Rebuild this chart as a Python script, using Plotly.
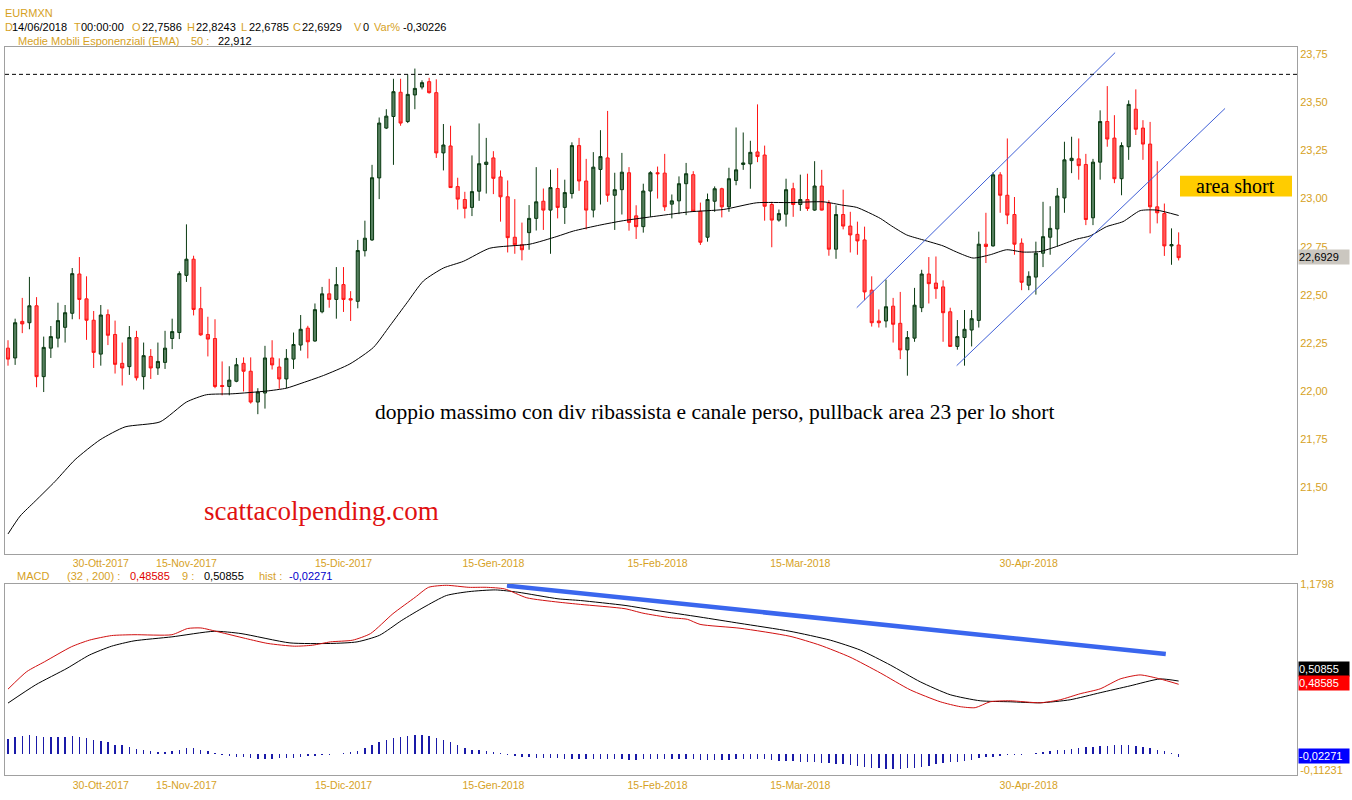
import plotly.graph_objects as go

W, H = 1352, 800

# ---------------- DATA ----------------
opens = [22.223,22.172,22.362,22.355,22.443,22.075,22.223,22.275,22.331,22.404,
         22.608,22.479,22.368,22.192,22.397,22.294,22.144,22.127,22.278,22.075,
         22.180,22.120,22.149,22.273,22.304,22.601,22.685,22.428,22.294,22.273,
         22.029,22.024,22.051,22.144,22.103,21.943,21.990,22.172,22.125,22.063,
         22.166,22.239,22.327,22.260,22.412,22.505,22.476,22.553,22.480,22.466,
         22.729,22.785,23.107,23.366,23.426,23.552,23.400,23.538,23.579,23.607,
         23.550,23.237,23.273,23.062,22.995,22.954,23.038,23.177,23.211,23.112,
         23.009,22.799,22.760,22.823,22.897,22.986,22.940,23.052,22.954,23.026,
         23.275,23.091,22.940,23.151,23.211,23.017,23.046,23.134,22.910,22.854,
         23.039,23.134,23.132,22.971,22.988,23.077,23.124,22.934,22.799,22.986,
         23.051,22.957,23.094,23.177,23.180,23.242,23.226,22.969,22.888,22.919,
         23.051,22.969,22.995,22.940,23.065,22.977,22.737,22.917,22.857,22.814,
         22.785,22.524,22.364,22.364,22.441,22.352,22.214,22.275,22.433,22.608,
         22.561,22.541,22.412,22.232,22.278,22.317,22.367,22.763,22.754,23.123,
         23.017,22.917,22.768,22.550,22.592,22.716,22.799,22.842,23.003,23.197,
         23.206,23.177,22.900,23.189,23.400,23.314,23.103,23.269,23.464,23.366,
         23.283,22.957,22.922,22.754,22.7586]
highs = [22.264,22.376,22.484,22.593,22.488,22.283,22.338,22.459,22.447,22.639,
         22.696,22.596,22.416,22.447,22.424,22.366,22.252,22.338,22.313,22.252,
         22.218,22.252,22.313,22.376,22.622,22.866,22.703,22.541,22.386,22.373,
         22.154,22.129,22.172,22.175,22.175,22.015,22.235,22.264,22.170,22.218,
         22.304,22.395,22.339,22.455,22.541,22.583,22.644,22.644,22.519,22.785,
         22.885,23.175,23.421,23.464,23.622,23.622,23.644,23.675,23.614,23.627,
         23.619,23.387,23.378,23.108,23.035,23.224,23.390,23.315,23.246,23.146,
         23.094,22.997,22.875,22.966,23.163,23.052,23.150,23.158,23.098,23.292,
         23.315,23.206,23.241,23.355,23.455,23.134,23.237,23.163,22.965,23.077,
         23.142,23.166,23.232,23.021,23.115,23.185,23.142,22.979,23.026,23.063,
         23.056,23.160,23.369,23.343,23.300,23.489,23.275,22.983,22.943,23.103,
         23.082,23.124,23.129,23.194,23.149,22.991,22.965,23.046,22.931,22.880,
         22.854,22.596,22.424,22.579,22.484,22.515,22.312,22.536,22.630,22.696,
         22.699,22.575,22.433,22.369,22.421,22.421,22.828,22.926,23.137,23.137,
         23.312,23.008,22.793,22.622,22.776,22.983,22.960,23.055,23.295,23.321,
         23.312,23.232,23.206,23.458,23.584,23.433,23.292,23.510,23.567,23.407,
         23.398,23.194,22.974,22.845,22.8243]
lows = [22.132,22.136,22.301,22.321,22.020,21.995,22.172,22.227,22.252,22.373,
        22.373,22.266,22.120,22.132,22.239,22.091,22.029,22.084,22.055,22.008,
        22.063,22.084,22.115,22.218,22.270,22.567,22.393,22.287,22.180,22.015,
        21.978,21.978,22.046,21.998,21.935,21.880,21.909,22.112,22.012,22.015,
        22.115,22.210,22.170,22.256,22.404,22.433,22.376,22.411,22.364,22.430,
        22.699,22.780,22.997,23.361,23.175,23.378,23.392,23.464,23.567,23.545,
        23.211,23.146,23.055,22.943,22.897,22.909,22.988,23.026,23.023,22.880,
        22.720,22.713,22.679,22.734,22.834,22.837,22.713,22.897,22.868,23.000,
        23.040,22.840,22.902,22.969,22.983,22.837,22.917,22.833,22.790,22.823,
        22.905,23.000,22.936,22.897,22.919,22.914,22.931,22.759,22.776,22.931,
        22.902,22.931,23.069,23.149,23.051,23.189,22.885,22.747,22.880,22.854,
        22.905,22.936,22.936,22.936,22.938,22.703,22.687,22.840,22.720,22.708,
        22.472,22.335,22.330,22.330,22.252,22.166,22.080,22.256,22.410,22.455,
        22.479,22.256,22.230,22.215,22.132,22.232,22.330,22.665,22.750,22.926,
        22.867,22.708,22.524,22.524,22.501,22.644,22.708,22.751,22.926,23.132,
        23.098,22.862,22.862,23.098,23.269,23.080,23.017,23.201,23.330,23.201,
        22.819,22.871,22.702,22.656,22.6785]
closes = [22.166,22.355,22.349,22.443,22.075,22.227,22.283,22.366,22.407,22.610,
          22.476,22.368,22.201,22.395,22.290,22.139,22.120,22.278,22.069,22.184,
          22.120,22.154,22.223,22.309,22.610,22.685,22.424,22.292,22.270,22.024,
          22.024,22.057,22.137,22.103,21.943,21.995,22.172,22.136,22.063,22.170,
          22.242,22.321,22.256,22.423,22.505,22.476,22.553,22.476,22.473,22.730,
          22.794,23.108,23.392,23.428,23.555,23.392,23.541,23.572,23.602,23.550,
          23.237,23.278,23.057,22.997,22.949,23.036,23.181,23.189,23.105,23.009,
          22.797,22.760,22.734,22.897,22.983,22.940,23.057,22.954,23.031,23.275,
          23.091,22.940,23.163,23.218,23.017,23.046,23.137,22.876,22.854,23.039,
          23.134,23.129,22.957,22.988,23.077,23.129,22.934,22.773,22.995,23.051,
          22.957,23.103,23.149,23.185,23.240,23.218,22.960,22.888,22.922,23.046,
          22.969,22.995,22.948,23.065,22.940,22.737,22.917,22.857,22.811,22.780,
          22.515,22.355,22.355,22.438,22.347,22.214,22.278,22.446,22.608,22.558,
          22.532,22.407,22.232,22.283,22.321,22.376,22.763,22.751,23.123,23.017,
          22.914,22.763,22.565,22.596,22.716,22.802,22.845,23.013,23.201,23.209,
          23.171,22.891,23.189,23.400,23.309,23.103,23.275,23.489,23.360,23.283,
          22.957,22.926,22.754,22.761,22.6929]

# EMA(50) (bar index, value)
ema_idx = [0, 1.7, 3.8, 6.6, 9.4, 12.9, 16.4, 21.3, 25.0, 27.8,
           31.5, 36.2, 39.0, 40.9, 44.2, 47.9, 51.2, 53.5, 55.9, 58.2,
           61.0, 63.8, 67.5, 73.1, 76.9, 79.2, 82.9, 86.2, 90.9, 95.5,
           100.2, 104.9, 109.6, 114.2, 117.0, 118.9, 122.2, 123.6, 125.9, 128.2,
           131.0, 132.9, 135.2, 137.6, 139.9, 142.2, 144.6, 146.9, 149.7, 151.6,
           153.9, 156.2, 158.6, 160.9, 164]
ema_val = [21.258, 21.351, 21.428, 21.531, 21.644, 21.747, 21.814, 21.840, 21.943, 21.981,
           21.986, 22.000, 22.015, 22.038, 22.081, 22.141, 22.227, 22.339, 22.459, 22.572,
           22.639, 22.674, 22.742, 22.763, 22.803, 22.831, 22.862, 22.885, 22.909, 22.931,
           22.943, 22.978, 22.979, 22.983, 22.965, 22.954, 22.897, 22.862, 22.811, 22.785,
           22.754, 22.722, 22.691, 22.708, 22.734, 22.722, 22.725, 22.751, 22.789, 22.806,
           22.854, 22.880, 22.937, 22.940, 22.912]

# channel lines and resistance
chan_up_idx = [118.9, 155.1]
chan_up_val = [22.433, 23.758]
chan_lo_idx = [132.9, 170.5]
chan_lo_val = [22.132, 23.468]
resistance = 23.645

# MACD (red) and signal (black)
red_idx = [0, 2.63, 5.13, 8.88, 11.39, 14.51, 17.65, 22.96, 25.15, 27.02,
           29.53, 33.27, 36.41, 40.15, 42.66, 45.17, 48.29, 50.79, 53.92, 57.05,
           58.92, 61.42, 64.56, 67.05, 69.56, 72.68, 77.05, 80.19, 86.44, 88.95,
           92.69, 95.19, 96.95, 102.55, 109.55, 113.76, 117.96, 122.2, 126.4, 130.6,
           133.4, 135.5, 137.6, 140.4, 144.6, 147.4, 150.2, 153.0, 155.8, 158.6,
           161.4, 164]
red_val = [0.452, 0.574, 0.643, 0.747, 0.793, 0.825, 0.831, 0.831, 0.874, 0.878,
           0.850, 0.805, 0.770, 0.751, 0.758, 0.781, 0.793, 0.839, 0.977, 1.092,
           1.161, 1.175, 1.161, 1.161, 1.150, 1.088, 1.058, 1.042, 1.012, 0.981,
           0.950, 0.938, 0.903, 0.876, 0.820, 0.758, 0.675, 0.565, 0.447, 0.364,
           0.330, 0.323, 0.364, 0.371, 0.357, 0.378, 0.420, 0.454, 0.523, 0.551,
           0.523, 0.48585]
blk_idx = [0, 3.88, 8.27, 11.39, 14.51, 17.65, 22.96, 28.9, 32.64, 39.5,
           45.17, 48.9, 52.05, 55.17, 58.28, 61.42, 64.56, 68.3, 71.43, 77.05,
           80.19, 86.44, 90.78, 96.95, 102.55, 109.55, 115.2, 119.4, 123.6, 127.8,
           132.0, 136.2, 140.4, 144.6, 148.8, 153.0, 157.2, 161.4, 164]
blk_val = [0.355, 0.482, 0.597, 0.689, 0.751, 0.788, 0.816, 0.855, 0.839, 0.774,
           0.770, 0.781, 0.827, 0.931, 1.023, 1.104, 1.131, 1.143, 1.127, 1.081,
           1.069, 1.035, 1.000, 0.954, 0.910, 0.855, 0.793, 0.724, 0.620, 0.503,
           0.413, 0.371, 0.364, 0.357, 0.378, 0.427, 0.475, 0.523, 0.50855]
hist = [0.104,0.122,0.129,0.134,0.127,0.122,0.122,0.122,0.122,0.127,
        0.122,0.115,0.099,0.092,0.085,0.065,0.060,0.048,0.037,0.030,
        0.023,0.016,0.012,0.023,0.030,0.041,0.041,0.030,0.023,0.007,
        -0.005,-0.012,-0.018,-0.023,-0.030,-0.035,-0.035,-0.032,-0.030,-0.028,
        -0.025,-0.020,-0.016,-0.012,-0.008,-0.005,-0.002,0.005,0.012,0.018,
        0.041,0.060,0.081,0.099,0.115,0.122,0.127,0.134,0.134,0.127,
        0.115,0.099,0.081,0.060,0.041,0.030,0.030,0.023,0.016,0.007,
        -0.010,-0.016,-0.020,-0.023,-0.025,-0.028,-0.030,-0.030,-0.032,-0.032,
        -0.035,-0.035,-0.037,-0.037,-0.035,-0.035,-0.037,-0.039,-0.039,-0.037,
        -0.037,-0.035,-0.035,-0.037,-0.037,-0.035,-0.035,-0.039,-0.041,-0.041,
        -0.041,-0.039,-0.037,-0.035,-0.032,-0.032,-0.037,-0.041,-0.046,-0.048,
        -0.050,-0.052,-0.055,-0.058,-0.060,-0.065,-0.068,-0.072,-0.076,-0.080,
        -0.087,-0.094,-0.099,-0.104,-0.104,-0.102,-0.099,-0.094,-0.087,-0.080,
        -0.072,-0.065,-0.058,-0.052,-0.046,-0.039,-0.030,-0.023,-0.018,-0.012,
        -0.009,-0.007,-0.005,-0.003,0.005,0.012,0.018,0.025,0.030,0.037,
        0.041,0.046,0.050,0.055,0.058,0.062,0.062,0.060,0.058,0.050,
        0.041,0.030,0.018,0.005,-0.02271]
trend_idx = [69.9, 162.2]
trend_val = [1.173, 0.696]

# axis ticks
date_tick_idx = [13, 25, 47, 68, 91, 111, 143]
date_tick_txt = ["30-Ott-2017", "15-Nov-2017", "15-Dic-2017", "15-Gen-2018",
                 "15-Feb-2018", "15-Mar-2018", "30-Apr-2018"]
price_ticks = [21.50, 21.75, 22.00, 22.25, 22.50, 22.75, 23.00, 23.25, 23.50, 23.75]
price_tick_txt = ["21,50", "21,75", "22,00", "22,25", "22,50", "22,75",
                  "23,00", "23,25", "23,50", "23,75"]
macd_ticks = [1.1798, -0.11231]
macd_tick_txt = ["1,1798", "-0,11231"]

GOLD = '#D6A11E'
K = '#000000'
RED = '#E00000'
BLUE = '#0000CC'

header2 = [("D", 4, GOLD), ("14/06/2018", 11, K), ("T", 73, GOLD), ("00:00:00", 80, K),
           ("O", 131, GOLD), ("22,7586", 141, K), ("H", 186, GOLD), ("22,8243", 195, K),
           ("L", 240, GOLD), ("22,6785", 248, K), ("C", 292, GOLD), ("22,6929", 301, K),
           ("V", 353, GOLD), ("0", 362, K), ("Var%", 373, GOLD), ("-0,30226", 402, K)]
header3 = [("Medie Mobili Esponenziali (EMA)", 17, GOLD), ("50 :", 190, GOLD), ("22,912", 217, K)]
macd_hdr = [("MACD", 16, GOLD), ("(32 , 200) :", 66, GOLD), ("0,48585", 129, RED),
            ("9 :", 181, GOLD), ("0,50855", 203, K), ("hist :", 258, GOLD), ("-0,02271", 288, BLUE)]

# ---------------- FIGURE ----------------
n = len(opens)
assert n == len(highs) == len(lows) == len(closes) == len(hist)
idx = list(range(n))

fig = go.Figure()
fig.add_trace(go.Candlestick(
    x=idx, open=opens, high=highs, low=lows, close=closes,
    xaxis='x', yaxis='y', whiskerwidth=0,
    increasing=dict(line=dict(color='#0a3a12', width=1), fillcolor='#557f5e'),
    decreasing=dict(line=dict(color='#ff1414', width=1), fillcolor='#ff5a5a'),
    showlegend=False, hoverinfo='skip'))
fig.add_trace(go.Scatter(x=ema_idx, y=ema_val, mode='lines', xaxis='x', yaxis='y',
                         line=dict(color='black', width=1, shape='spline', smoothing=0.6),
                         showlegend=False, hoverinfo='skip'))
for cx, cy in ((chan_up_idx, chan_up_val), (chan_lo_idx, chan_lo_val)):
    fig.add_trace(go.Scatter(x=cx, y=cy, mode='lines', xaxis='x', yaxis='y',
                             line=dict(color='#3f5fd6', width=1),
                             showlegend=False, hoverinfo='skip'))

fig.add_trace(go.Bar(x=idx, y=hist, width=0.2, xaxis='x2', yaxis='y2',
                     marker=dict(color='#1a1aa8', line=dict(width=0)),
                     showlegend=False, hoverinfo='skip'))
fig.add_trace(go.Scatter(x=blk_idx, y=blk_val, mode='lines', xaxis='x2', yaxis='y2',
                         line=dict(color='black', width=1, shape='spline', smoothing=0.6),
                         showlegend=False, hoverinfo='skip'))
fig.add_trace(go.Scatter(x=red_idx, y=red_val, mode='lines', xaxis='x2', yaxis='y2',
                         line=dict(color='#d01010', width=1, shape='spline', smoothing=0.6),
                         showlegend=False, hoverinfo='skip'))
fig.add_trace(go.Scatter(x=trend_idx, y=trend_val, mode='lines', xaxis='x2', yaxis='y2',
                         line=dict(color='#3a66ee', width=4.5),
                         showlegend=False, hoverinfo='skip'))

xdom = [5 / W, 1297 / W]
FR = dict(family='Liberation Sans, Arial, sans-serif', color=GOLD)
common_x = dict(domain=xdom, range=[-0.42, 180.58], tickmode='array',
                tickvals=date_tick_idx, ticktext=date_tick_txt,
                tickfont=dict(size=10.5, **FR), ticks='', showgrid=False,
                zeroline=False, showline=True, linecolor='#a0a0a0', linewidth=1,
                mirror=True, fixedrange=True)
fig.update_layout(
    width=W, height=H, autosize=False,
    margin=dict(l=0, r=0, t=0, b=0),
    paper_bgcolor='white', plot_bgcolor='white',
    showlegend=False, boxgap=0.38, bargap=0,
    xaxis=dict(anchor='y', rangeslider=dict(visible=False), **common_x),
    xaxis2=dict(anchor='y2', matches='x', **common_x),
    yaxis=dict(domain=[1 - 553 / H, 1 - 42 / H], range=[21.1546, 23.7887], side='right',
               anchor='x', tickmode='array', tickvals=price_ticks, ticktext=price_tick_txt,
               tickfont=dict(size=11, **FR), ticks='', showgrid=False, zeroline=False,
               showline=True, linecolor='#a0a0a0', linewidth=1, mirror=True, fixedrange=True),
    yaxis2=dict(domain=[1 - 776 / H, 1 - 583 / H], range=[-0.1471, 1.1867], side='right',
                anchor='x2', tickmode='array', tickvals=macd_ticks, ticktext=macd_tick_txt,
                tickfont=dict(size=11, **FR), ticks='', showgrid=False, zeroline=False,
                showline=True, linecolor='#a0a0a0', linewidth=1, mirror=True, fixedrange=True),
)

# resistance dashed line
fig.add_shape(type='line', xref='x domain', yref='y', x0=0, x1=1, y0=resistance, y1=resistance,
              line=dict(color='black', width=1, dash='4px,3px'))

# "area short" box
fig.add_shape(type='rect', xref='paper', yref='paper', x0=1180 / W, x1=1292 / W,
              y0=1 - 193 / H, y1=1 - 172 / H, fillcolor='#FFCC00', line=dict(width=0))

anns = []
def txt(x, y, s, color, size=11, family='Liberation Sans, Arial, sans-serif', xanchor='left', **kw):
    d = dict(xref='paper', yref='paper', x=x / W, y=1 - y / H, text=s, showarrow=False,
             xanchor=xanchor, yanchor='middle', font=dict(size=size, color=color, family=family),
             borderpad=0)
    d.update(kw)
    anns.append(d)

txt(4, 8, "EURMXN", GOLD)
for s, x, c in header2:
    txt(x, 22, s, c)
for s, x, c in header3:
    txt(x, 36, s, c)
for s, x, c in macd_hdr:
    txt(x, 575, s, c)

txt(1235, 182, "area short", 'black', size=20, family='Liberation Serif, Times New Roman, serif',
    xanchor='center')
txt(714, 410, "doppio massimo con div ribassista e canale perso, pullback area 23 per lo short",
    'black', size=21.5, family='Liberation Serif, Times New Roman, serif', xanchor='center')
txt(321, 510, "scattacolpending.com", '#E01010', size=27,
    family='Liberation Serif, Times New Roman, serif', xanchor='center')

# value tags on the right
def tag(y, s, bg, fg):
    anns.append(dict(xref='paper', yref='paper', x=1298 / W, y=1 - y / H, text=s, showarrow=False,
                     xanchor='left', yanchor='middle', align='left', width=50, height=14,
                     bgcolor=bg, borderpad=0,
                     font=dict(size=11, color=fg, family='Liberation Sans, Arial, sans-serif')))

tag(254, "22,6929", '#CBC7C0', 'black')
tag(669, "0,50855", '#000000', 'white')
tag(683, "0,48585", '#FF0000', 'white')
tag(757, "-0,02271", '#0000FF', 'white')

fig.update_layout(annotations=anns)
fig.write_html("out.html", config={'displayModeBar': False, 'staticPlot': True},
               post_script="document.body.style.margin='0px';document.body.style.overflow='hidden';")
